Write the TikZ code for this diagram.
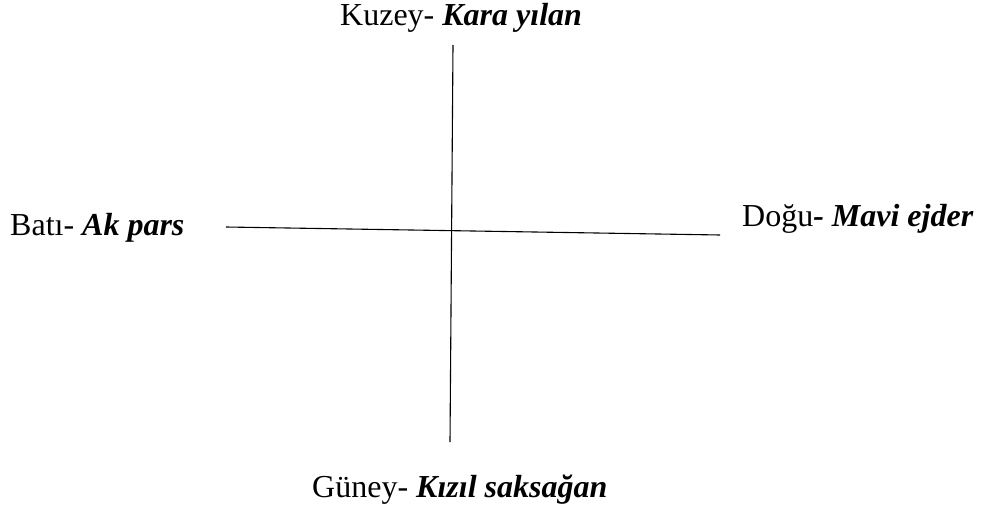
\documentclass[tikz,border=0pt]{standalone}
\usepackage{fontspec}
\setmainfont{Liberation Serif}
\begin{document}
\begin{tikzpicture}[x=1pt,y=-1pt,
  lbl/.style={anchor=base west,inner sep=0pt,font=\fontsize{32}{37}\selectfont},
  axis/.style={line width=1.1pt,black}]
\useasboundingbox (0,0) rectangle (982,511);
\coordinate (ntop) at (453,45);
\coordinate (sbot) at (450,442);
\coordinate (wend) at (226,227);
\coordinate (eend) at (720,235);
\draw[axis] (ntop) -- (sbot);
\draw[axis] (wend) -- (eend);
\node[lbl] (north) at (340,26) {Kuzey- \textbf{\textit{Kara yılan}}};
\node[lbl] (west) at (10,235) {Batı- \textbf{\textit{Ak pars}}};
\node[lbl] (east) at (742,226) {Doğu\textbf{\textit{- Mavi ejder}}};
\node[lbl] (south) at (312,497) {Güney- \textbf{\textit{Kızıl saksağan}}};
\end{tikzpicture}
\end{document}
